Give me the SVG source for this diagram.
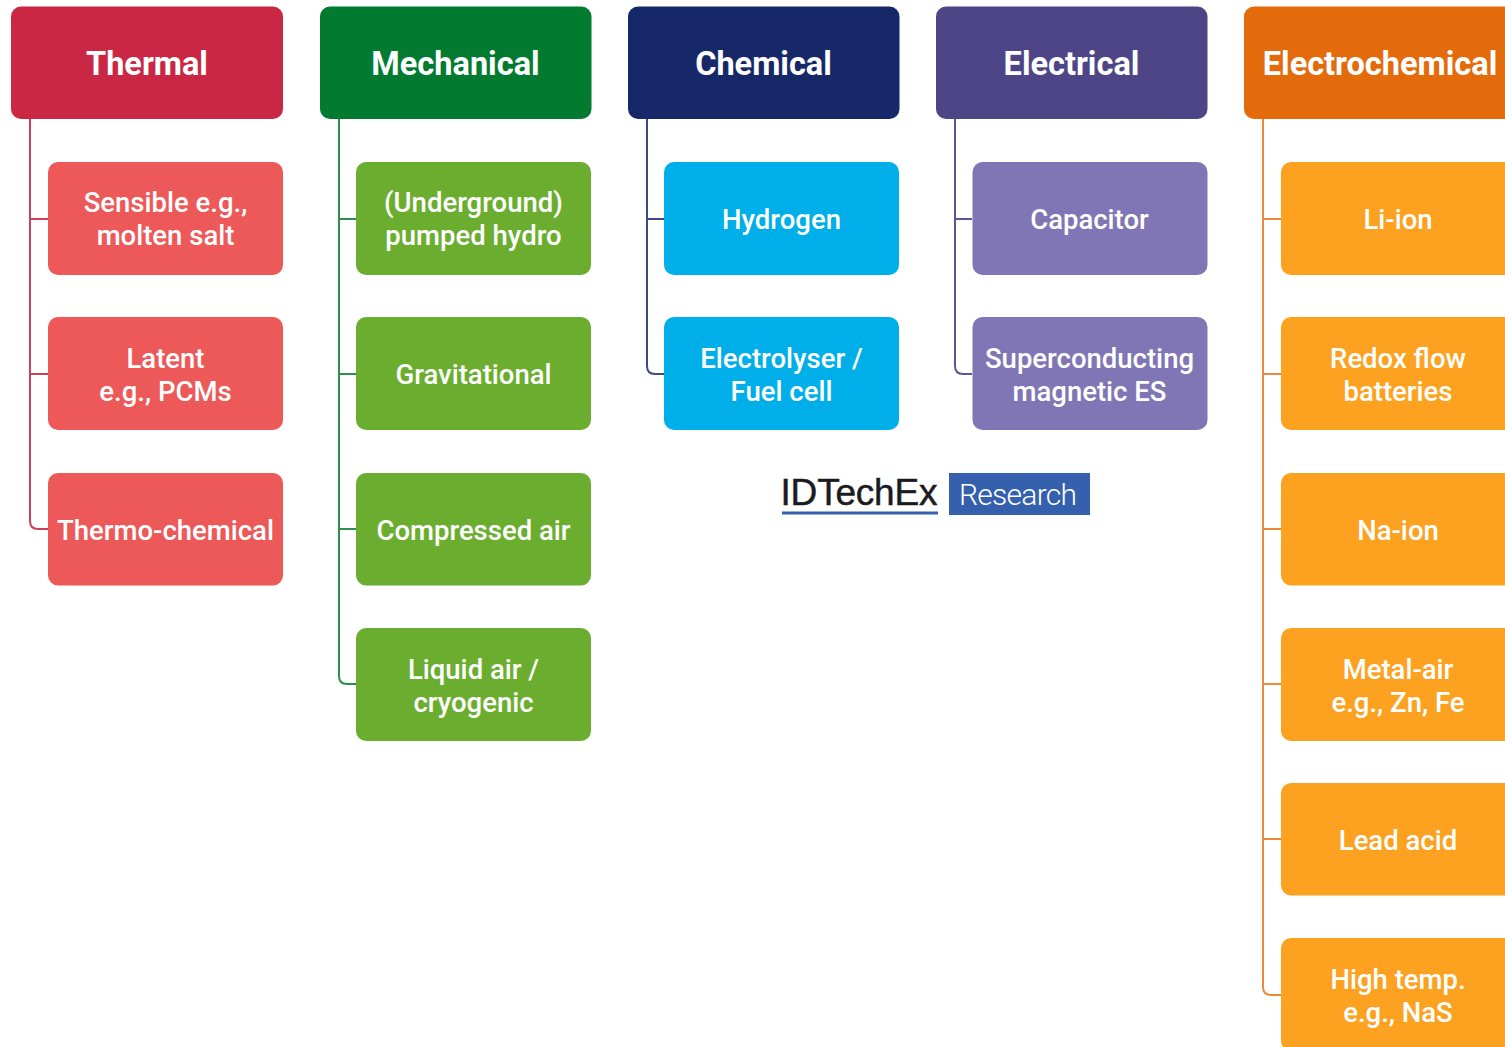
<svg xmlns="http://www.w3.org/2000/svg" width="1505" height="1047" viewBox="0 0 1505 1047">
<style>
text{font-family:Roboto,"Liberation Sans",sans-serif;fill:#fff;text-anchor:middle}
.h{font-size:32.500px;font-weight:700}
.s{font-size:27.500px;font-weight:500}
.c{fill:none;stroke-width:2}
rect{shape-rendering:geometricPrecision}
</style>
<rect width="1505" height="1047" fill="#fff"/>
<g id="connectors">
<path class="c" stroke="#c9415c" d="M30 119V521Q30 529 38 529H48M30 219H48M30 374H48"/>
<path class="c" stroke="#2f8f4a" d="M339 119V676Q339 684 347 684H356M339 219H356M339 374H356M339 529H356"/>
<path class="c" stroke="#3f4a85" d="M647 119V366Q647 374 655 374H664M647 219H664"/>
<path class="c" stroke="#5f5596" d="M955 119V366Q955 374 963 374H972M955 219H972"/>
<path class="c" stroke="#ec8a3c" d="M1263 119V987Q1263 995 1271 995H1281M1263 219H1281M1263 374H1281M1263 529H1281M1263 684H1281M1263 839H1281"/>
</g>
<g id="thermal"><rect x="11" y="6.500" width="272" height="112.500" rx="10" fill="#c92743"/><text class="h" x="147" y="74.500">Thermal</text></g>
<g id="mechanical"><rect x="320" y="6.500" width="271.500" height="112.500" rx="10" fill="#027a30"/><text class="h" x="455.500" y="74.500">Mechanical</text></g>
<g id="chemical"><rect x="628" y="6.500" width="271.500" height="112.500" rx="10" fill="#172868"/><text class="h" x="763.500" y="74.500">Chemical</text></g>
<g id="electrical"><rect x="936" y="6.500" width="271.500" height="112.500" rx="10" fill="#4e4587"/><text class="h" x="1071.500" y="74.500">Electrical</text></g>
<g id="electrochemical"><rect x="1244" y="6.500" width="272" height="112.500" rx="10" fill="#e36b0c"/><text class="h" x="1380" y="74.500">Electrochemical</text></g>

<g id="sensible"><rect x="48" y="162" width="235" height="113" rx="10" fill="#ed5859"/><text class="s" x="165.500" y="212">Sensible e.g.,</text><text class="s" x="165.500" y="245">molten salt</text></g>
<g id="latent"><rect x="48" y="317" width="235" height="113" rx="10" fill="#ed5859"/><text class="s" x="165.500" y="367.500">Latent</text><text class="s" x="165.500" y="400.500">e.g., PCMs</text></g>
<g id="thermo-chemical"><rect x="48" y="473" width="235" height="112.500" rx="10" fill="#ed5859"/><text class="s" x="165.500" y="539.500">Thermo-chemical</text></g>

<g id="pumped-hydro"><rect x="356" y="162" width="235" height="113" rx="10" fill="#6bae2f"/><text class="s" x="473.500" y="212">(Underground)</text><text class="s" x="473.500" y="245">pumped hydro</text></g>
<g id="gravitational"><rect x="356" y="317" width="235" height="113" rx="10" fill="#6bae2f"/><text class="s" x="473.500" y="384">Gravitational</text></g>
<g id="compressed-air"><rect x="356" y="473" width="235" height="112.500" rx="10" fill="#6bae2f"/><text class="s" x="473.500" y="539.500">Compressed air</text></g>
<g id="liquid-air"><rect x="356" y="628" width="235" height="113" rx="10" fill="#6bae2f"/><text class="s" x="473.500" y="678.500">Liquid air /</text><text class="s" x="473.500" y="711.500">cryogenic</text></g>

<g id="hydrogen"><rect x="664" y="162" width="235" height="113" rx="10" fill="#00afea"/><text class="s" x="781.500" y="228.500">Hydrogen</text></g>
<g id="electrolyser"><rect x="664" y="317" width="235" height="113" rx="10" fill="#00afea"/><text class="s" x="781.500" y="367.500">Electrolyser /</text><text class="s" x="781.500" y="400.500">Fuel cell</text></g>

<g id="capacitor"><rect x="972.500" y="162" width="235" height="113" rx="10" fill="#8076b5"/><text class="s" x="1089.500" y="228.500">Capacitor</text></g>
<g id="superconducting"><rect x="972.500" y="317" width="235" height="113" rx="10" fill="#8076b5"/><text class="s" x="1089.500" y="367.500">Superconducting</text><text class="s" x="1089.500" y="400.500">magnetic ES</text></g>

<g id="li-ion"><rect x="1281" y="162" width="235" height="113" rx="10" fill="#fda220"/><text class="s" x="1398" y="228.500">Li-ion</text></g>
<g id="redox-flow"><rect x="1281" y="317" width="235" height="113" rx="10" fill="#fda220"/><text class="s" x="1398" y="367.500">Redox flow</text><text class="s" x="1398" y="400.500">batteries</text></g>
<g id="na-ion"><rect x="1281" y="473" width="235" height="112.500" rx="10" fill="#fda220"/><text class="s" x="1398" y="539.500">Na-ion</text></g>
<g id="metal-air"><rect x="1281" y="628" width="235" height="113" rx="10" fill="#fda220"/><text class="s" x="1398" y="678.500">Metal-air</text><text class="s" x="1398" y="711.500">e.g., Zn, Fe</text></g>
<g id="lead-acid"><rect x="1281" y="783" width="235" height="112.500" rx="10" fill="#fda220"/><text class="s" x="1398" y="849.500">Lead acid</text></g>
<g id="high-temp"><rect x="1281" y="938" width="235" height="113" rx="10" fill="#fda220"/><text class="s" x="1398" y="988.500">High temp.</text><text class="s" x="1398" y="1021.500">e.g., NaS</text></g>

<g id="logo">
<text x="859" y="505" style="font-family:'Liberation Sans',sans-serif;fill:#1b1b1f;font-size:37px;stroke:#1b1b1f;stroke-width:.5" textLength="157" lengthAdjust="spacing">IDTechEx</text>
<rect x="782" y="511.500" width="156" height="3" fill="#3560ae"/>
<rect x="949" y="473" width="141" height="42" fill="#3560ae"/>
<text x="1018" y="505" style="font-family:Roboto,sans-serif;font-weight:300;font-size:30px" textLength="118" lengthAdjust="spacing">Research</text>
</g>
</svg>
